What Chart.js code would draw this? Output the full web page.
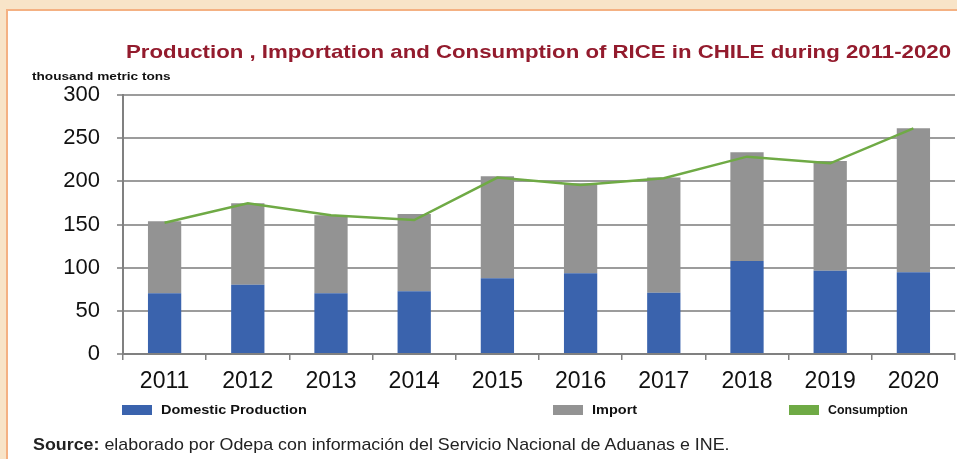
<!DOCTYPE html>
<html lang="en">
<head>
  <meta charset="UTF-8">
  <title>Rice in Chile 2011-2020</title>
  <script src="https://cdn.jsdelivr.net/npm/chart.js"></script>
  <style>
    html, body {
      margin: 0;
      padding: 0;
      width: 957px;
      height: 459px;
      overflow: hidden;
      background: #f8e4c8;
      font-family: Arial, "Liberation Sans", sans-serif;
    }
    #panel {
      position: absolute;
      left: 6px;
      top: 9px;
      width: 960px;
      height: 460px;
      background: #fff;
      border-left: 2px solid #f4b183;
      border-top: 2px solid #f4b183;
    }
    #wrap {
      position: absolute;
      left: 0;
      top: 0;
      width: 957px;
      height: 459px;
    }
    .txt { position: absolute; white-space: nowrap; transform-origin: left center; }
    #title {
      left: 126px; top: 41px;
      font-size: 19px; font-weight: bold; color: #931b2d;
      transform: scaleX(1.17);
    }
    #unit {
      left: 32px; top: 70px;
      font-size: 11px; font-weight: bold; color: #111;
      transform: scaleX(1.24);
    }
    .leg {
      top: 403px;
      font-size: 12.5px; font-weight: bold; color: #111;
      display: flex; align-items: center;
    }
    .leg span.sw {
      display: inline-block; width: 30px; height: 10px; margin-right: 9px;
    }
    .leg span.lt { display: inline-block; transform-origin: left center; }
    #source {
      left: 33px; top: 435px;
      font-size: 17px; color: #222;
      transform: scaleX(1.05);
    }
  </style>
</head>
<body>
  <div id="panel"></div>
  <div id="wrap"><canvas id="riceChart" width="957" height="459"></canvas></div>
  <div class="txt" id="title">Production , Importation and Consumption of RICE in CHILE during 2011-2020</div>
  <div class="txt" id="unit">thousand metric tons</div>
  <div class="txt leg" style="left:122px"><span class="sw" style="background:#3a63ad"></span><span class="lt" style="transform:scaleX(1.16)">Domestic Production</span></div>
  <div class="txt leg" style="left:553px"><span class="sw" style="background:#939393"></span><span class="lt" style="transform:scaleX(1.16)">Import</span></div>
  <div class="txt leg" style="left:789px"><span class="sw" style="background:#6faa45"></span><span class="lt" style="transform:scaleX(0.99)">Consumption</span></div>
  <div class="txt" id="source"><b>Source:</b> elaborado por Odepa con información del Servicio Nacional de Aduanas e INE.</div>

  <script>
    // values in thousand metric tons
    const years = ['2011', '2012', '2013', '2014', '2015', '2016', '2017', '2018', '2019', '2020'];
    const domesticProduction = [70.3, 80.3, 70.3, 72.6, 87.7, 93.4, 71.0, 107.7, 96.5, 94.6];
    const imports = [83.4, 94.2, 90.3, 89.6, 118.1, 104.3, 133.3, 125.9, 127.1, 166.8];
    const consumption = [152, 174.5, 160.6, 155.2, 204.3, 195.8, 203.5, 228.6, 220.9, 261.4];
    const yTicks = [0, 50, 100, 150, 200, 250, 300];

    const ctx = document.getElementById('riceChart').getContext('2d');
    new Chart(ctx, {
      type: 'bar',
      data: {
        labels: years,
        datasets: [
          {
            type: 'line',
            label: 'Consumption',
            data: consumption,
            borderColor: '#6faa45',
            borderWidth: 2.5,
            pointRadius: 0,
            tension: 0,
            stack: 'cons',
            order: 0
          },
          {
            label: 'Domestic Production',
            data: domesticProduction,
            backgroundColor: '#3a63ad',
            stack: 'bars',
            order: 1,
            barPercentage: 0.4,
            categoryPercentage: 1
          },
          {
            label: 'Import',
            data: imports,
            backgroundColor: '#939393',
            stack: 'bars',
            order: 1,
            barPercentage: 0.4,
            categoryPercentage: 1
          }
        ]
      },
      options: {
        responsive: false,
        animation: false,
        layout: { padding: { top: 95, right: 2, left: 0, bottom: 0 } },
        plugins: {
          legend: { display: false },
          title: { display: false },
          tooltip: { enabled: false }
        },
        scales: {
          x: {
            stacked: true,
            afterFit: s => { s.height = 105; },
            grid: {
              offset: true,
              drawOnChartArea: false,
              drawTicks: true,
              tickLength: 6,
              color: '#808080',
              lineWidth: 1.5
            },
            border: { color: '#808080', width: 2 },
            ticks: {
              color: '#111',
              padding: 8,
              font: { family: 'Arial', size: 23 }
            }
          },
          y: {
            stacked: true,
            min: 0,
            max: 300,
            afterFit: s => { s.width = 123; },
            afterBuildTicks: s => { s.ticks = yTicks.map(v => ({ value: v })); },
            grid: {
              color: '#9c9c9c',
              lineWidth: 2,
              drawTicks: true,
              tickLength: 6
            },
            border: { color: '#808080', width: 2 },
            ticks: {
              color: '#111',
              padding: 17,
              font: { family: 'Arial', size: 22 }
            }
          }
        }
      }
    });
  </script>
</body>
</html>
